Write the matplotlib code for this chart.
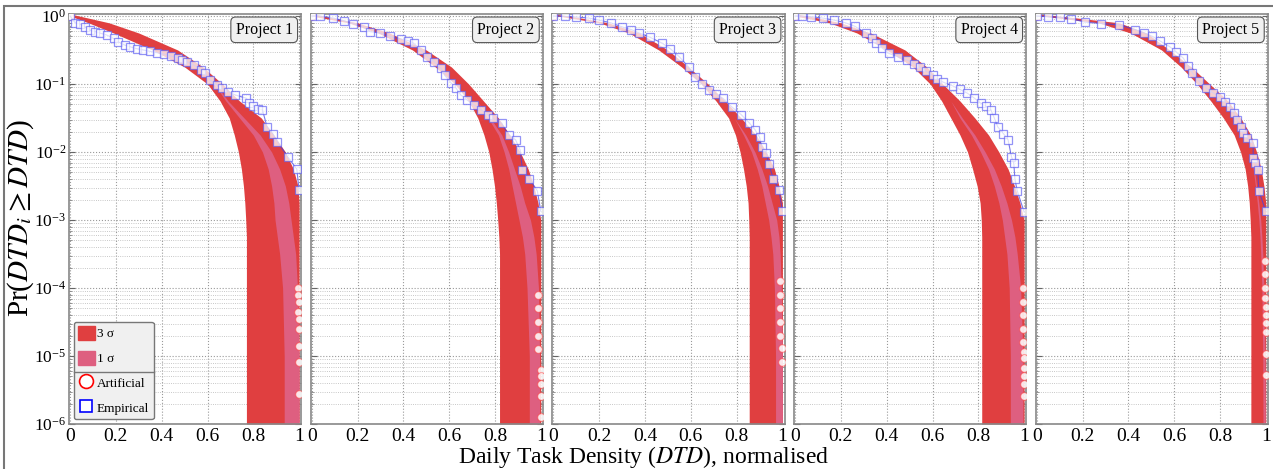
import numpy as np
import matplotlib
matplotlib.use('Agg')
import matplotlib.pyplot as plt
from matplotlib.patches import Patch, Rectangle
from matplotlib.lines import Line2D
from matplotlib.ticker import LogLocator, FixedLocator, FixedFormatter
from matplotlib.transforms import IdentityTransform

plt.rcParams['font.family'] = ['Liberation Serif', 'DejaVu Serif']
plt.rcParams['mathtext.fontset'] = 'stix'
plt.rcParams['axes.unicode_minus'] = False

# ---- data (probabilities are stored as log10 values) ----
projects = ['Project 1', 'Project 2', 'Project 3', 'Project 4', 'Project 5']
x_ticks = [0, 0.2, 0.4, 0.6, 0.8, 1]
x_tick_labels = ['0', '0.2', '0.4', '0.6', '0.8', '1']

# 3 sigma band of the artificial CCDFs: left / right edge at each level
band3_levels = [0.03, 0, -0.1, -0.25, -0.5, -0.75, -1.0, -1.25, -1.5, -1.75,
                -2.0, -2.25, -2.5, -2.75, -3.0, -3.25, -3.5, -4.0, -5.0, -6.0]
band3_left = [
    [0.0, 0.0, 0.08, 0.19, 0.36, 0.5, 0.6, 0.655, 0.695, 0.717, 0.735, 0.748, 0.757, 0.763, 0.767, 0.77, 0.77, 0.77, 0.77, 0.77],
    [0.0, 0.0, 0.16, 0.29, 0.44, 0.54, 0.625, 0.685, 0.725, 0.752, 0.773, 0.787, 0.798, 0.806, 0.812, 0.817, 0.82, 0.82, 0.82, 0.82],
    [0.0, 0.02, 0.2, 0.33, 0.46, 0.56, 0.645, 0.71, 0.765, 0.795, 0.815, 0.83, 0.842, 0.85, 0.853, 0.855, 0.855, 0.855, 0.855, 0.855],
    [0.0, 0.0, 0.15, 0.27, 0.4, 0.515, 0.59, 0.64, 0.68, 0.72, 0.753, 0.775, 0.795, 0.808, 0.813, 0.815, 0.815, 0.815, 0.815, 0.815],
    [0.0, 0.02, 0.27, 0.41, 0.545, 0.63, 0.7, 0.76, 0.815, 0.862, 0.89, 0.91, 0.921, 0.928, 0.932, 0.935, 0.935, 0.935, 0.935, 0.935],
]
band3_right = [
    [0.0, 0.04, 0.17, 0.3, 0.47, 0.58, 0.665, 0.74, 0.835, 0.89, 0.94, 0.975, 0.995, 1.0, 1.0, 1.0, 1.0, 1.0, 1.0, 1.0],
    [0.0, 0.05, 0.2, 0.34, 0.5, 0.61, 0.685, 0.75, 0.815, 0.865, 0.91, 0.945, 0.97, 0.988, 1.0, 1.0, 1.0, 1.0, 1.0, 1.0],
    [0.0, 0.07, 0.24, 0.375, 0.5, 0.59, 0.675, 0.75, 0.82, 0.885, 0.93, 0.965, 0.985, 1.0, 1.0, 1.0, 1.0, 1.0, 1.0, 1.0],
    [0.0, 0.06, 0.2, 0.33, 0.48, 0.575, 0.645, 0.72, 0.785, 0.845, 0.89, 0.93, 0.958, 0.982, 1.0, 1.0, 1.0, 1.0, 1.0, 1.0],
    [0.0, 0.1, 0.36, 0.48, 0.58, 0.675, 0.755, 0.835, 0.89, 0.935, 0.96, 0.98, 0.992, 1.0, 1.0, 1.0, 1.0, 1.0, 1.0, 1.0],
]

# 1 sigma band
band1_levels = [-1.0, -1.25, -1.5, -1.75, -2.0, -2.25, -2.5, -2.75, -3.0, -3.25, -3.5, -4.0, -5.0, -6.0]
band1_left = [
    [0.63, 0.68, 0.74, 0.8, 0.84, 0.865, 0.88, 0.89, 0.895, 0.905, 0.915, 0.928, 0.935, 0.935],
    [0.66, 0.72, 0.77, 0.815, 0.84, 0.86, 0.875, 0.89, 0.905, 0.92, 0.93, 0.94, 0.95, 0.95],
    [0.66, 0.73, 0.79, 0.83, 0.865, 0.89, 0.91, 0.925, 0.94, 0.95, 0.958, 0.965, 0.97, 0.97],
    [0.62, 0.68, 0.72, 0.77, 0.81, 0.845, 0.87, 0.89, 0.905, 0.915, 0.925, 0.935, 0.94, 0.94],
    [0.73, 0.79, 0.85, 0.9, 0.93, 0.945, 0.955, 0.963, 0.97, 0.975, 0.978, 0.983, 0.987, 0.988],
]
band1_right = [
    [0.635, 0.69, 0.76, 0.83, 0.88, 0.915, 0.94, 0.955, 0.965, 0.975, 0.985, 0.993, 1.0, 1.0],
    [0.66, 0.72, 0.78, 0.83, 0.86, 0.885, 0.91, 0.93, 0.955, 0.97, 0.98, 0.99, 0.995, 0.995],
    [0.66, 0.73, 0.79, 0.84, 0.88, 0.91, 0.935, 0.955, 0.975, 0.985, 0.99, 0.995, 1.0, 1.0],
    [0.62, 0.68, 0.73, 0.785, 0.83, 0.87, 0.9, 0.925, 0.945, 0.96, 0.97, 0.985, 0.995, 0.995],
    [0.73, 0.79, 0.85, 0.9, 0.93, 0.95, 0.96, 0.97, 0.978, 0.983, 0.987, 0.992, 0.997, 0.998],
]

# artificial samples visible outside the band
art_x = [
    [0, 0.995, 0.997, 0.998, 0.996, 0.999, 1.0, 1.0, 1.0, 1.0],
    [0, 0.99, 0.99, 0.99, 0.99, 0.99, 1.0, 1.0, 1.0, 1.0, 1.0],
    [0, 0.99, 0.99, 0.99, 0.99, 0.99, 1.0, 1.0],
    [0, 0.995, 0.995, 0.995, 0.995, 0.995, 1.0, 1.0, 1.0, 1.0, 1.0, 1.0],
    [0, 0.995, 0.995, 0.995, 0.995, 1.0, 1.0, 1.0, 1.0, 1.0, 1.0],
]
art_logp = [
    [0, -4.0, -4.1, -4.2, -4.35, -4.45, -4.6, -4.85, -5.09, -5.56],
    [0, -4.1, -4.3, -4.5, -4.7, -4.9, -5.2, -5.29, -5.41, -5.59, -5.9],
    [0, -3.9, -4.1, -4.3, -4.5, -4.7, -4.88, -5.09],
    [0, -4.0, -4.2, -4.4, -4.6, -4.8, -4.94, -5.03, -5.18, -5.29, -5.41, -5.59],
    [0, -3.6, -3.8, -4.0, -4.15, -4.28, -4.40, -4.51, -4.65, -4.97, -5.28],
]

# empirical CCDF
emp_x = [
    [0, 0.022, 0.044, 0.066, 0.088, 0.11, 0.13, 0.16, 0.19, 0.21, 0.24, 0.26, 0.29, 0.32, 0.35, 0.38,
     0.41, 0.44, 0.47, 0.49, 0.51, 0.54, 0.57, 0.59, 0.61, 0.64, 0.665, 0.69, 0.72, 0.77, 0.78, 0.80,
     0.82, 0.84, 0.86, 0.885, 0.905, 0.95, 0.99, 1.0],
    [0, 0.035, 0.094, 0.14, 0.18, 0.226, 0.255, 0.30, 0.34, 0.39, 0.42, 0.445, 0.475, 0.505, 0.535,
     0.565, 0.58, 0.61, 0.63, 0.65, 0.68, 0.71, 0.74, 0.77, 0.79, 0.83, 0.86, 0.89, 0.91, 0.92, 0.95,
     0.985, 1.0],
    [0, 0.05, 0.1, 0.155, 0.2, 0.25, 0.30, 0.34, 0.375, 0.42, 0.475, 0.51, 0.55, 0.59, 0.62, 0.65,
     0.68, 0.71, 0.74, 0.78, 0.82, 0.855, 0.88, 0.90, 0.91, 0.93, 0.94, 0.96, 0.985, 1.0],
    [0, 0.03, 0.07, 0.12, 0.17, 0.22, 0.26, 0.31, 0.335, 0.355, 0.38, 0.41, 0.45, 0.49, 0.52, 0.545,
     0.57, 0.60, 0.62, 0.645, 0.69, 0.72, 0.75, 0.78, 0.81, 0.835, 0.855, 0.87, 0.885, 0.91, 0.93,
     0.945, 0.955, 0.96, 0.97, 1.0],
    [0, 0.05, 0.1, 0.15, 0.21, 0.28, 0.36, 0.43, 0.47, 0.505, 0.54, 0.58, 0.61, 0.64, 0.66, 0.68,
     0.71, 0.74, 0.77, 0.80, 0.82, 0.845, 0.86, 0.875, 0.89, 0.90, 0.92, 0.945, 0.945, 0.955, 0.965,
     0.97, 1.0],
]
emp_logp = [
    [0, -0.10, -0.12, -0.16, -0.21, -0.23, -0.25, -0.28, -0.33, -0.38, -0.43, -0.45, -0.48, -0.50,
     -0.52, -0.54, -0.56, -0.59, -0.61, -0.64, -0.67, -0.72, -0.79, -0.84, -0.94, -1.01, -1.06, -1.11,
     -1.16, -1.21, -1.28, -1.32, -1.36, -1.38, -1.63, -1.73, -1.85, -2.07, -2.25, -2.56],
    [0, 0, -0.03, -0.07, -0.11, -0.16, -0.23, -0.25, -0.30, -0.34, -0.36, -0.40, -0.50, -0.60, -0.67,
     -0.77, -0.87, -0.99, -1.06, -1.16, -1.24, -1.31, -1.38, -1.46, -1.50, -1.58, -1.75, -1.82, -1.97,
     -2.26, -2.39, -2.57, -2.87],
    [0, -0.005, -0.015, -0.03, -0.06, -0.10, -0.16, -0.20, -0.25, -0.31, -0.40, -0.48, -0.60, -0.75,
     -0.90, -1.00, -1.09, -1.15, -1.21, -1.34, -1.45, -1.57, -1.67, -1.78, -1.93, -2.02, -2.17, -2.39,
     -2.56, -2.87],
    [0, -0.003, -0.01, -0.03, -0.06, -0.10, -0.15, -0.25, -0.32, -0.40, -0.47, -0.55, -0.60, -0.65,
     -0.70, -0.75, -0.81, -0.87, -0.92, -0.97, -1.03, -1.08, -1.13, -1.20, -1.28, -1.33, -1.38, -1.50,
     -1.63, -1.73, -1.82, -2.07, -2.16, -2.40, -2.57, -2.88],
    [0, -0.01, -0.02, -0.04, -0.09, -0.11, -0.13, -0.20, -0.25, -0.30, -0.37, -0.45, -0.53, -0.62,
     -0.73, -0.84, -0.96, -1.06, -1.13, -1.19, -1.26, -1.34, -1.43, -1.53, -1.63, -1.72, -1.80, -1.87,
     -2.09, -2.16, -2.26, -2.57, -2.87],
]

col_3s = '#e03f40'
col_1s = '#de5f80'

fig, axes = plt.subplots(1, 5, figsize=(12.73, 4.69), dpi=100, sharey=True)
fig.subplots_adjust(left=0.0542, right=0.9961, top=0.9701, bottom=0.0959, wspace=0.04)

for i, ax in enumerate(axes):
    ax.fill_betweenx(10.0 ** np.array(band3_levels), band3_left[i], band3_right[i],
                     color=col_3s, lw=0, zorder=2)
    ax.fill_betweenx(10.0 ** np.array(band1_levels), band1_left[i], band1_right[i],
                     color=col_1s, lw=0, zorder=2.1)
    ax.plot(art_x[i], 10.0 ** np.array(art_logp[i]), 'o', ls='none', ms=5.5,
            mfc=(1, 1, 1, 0.85), mec=(1, 0.25, 0.25, 0.55), mew=0.8, zorder=3)
    ax.plot(emp_x[i], 10.0 ** np.array(emp_logp[i]), '-', color=(0.25, 0.25, 0.9, 0.7), lw=0.8,
            marker='s', ms=6, mfc=(1, 1, 1, 0.75), mec=(0.35, 0.35, 0.95, 0.65), mew=0.9, zorder=4)

    ax.set_yscale('log')
    ax.set_ylim(1e-6, 1.07)
    ax.set_xlim(-0.005, 1.01)
    ax.xaxis.set_major_locator(FixedLocator(x_ticks))
    ax.xaxis.set_major_formatter(FixedFormatter(x_tick_labels))
    ax.yaxis.set_major_locator(LogLocator(base=10, numticks=20))
    ax.yaxis.set_minor_locator(LogLocator(base=10, subs=np.arange(2, 10), numticks=20))

    ax.grid(True, which='major', ls=':', color='#9a9a9a', lw=0.8)
    ax.grid(True, which='minor', axis='y', ls=':', color='#b5b5b5', lw=0.6)
    ax.set_axisbelow(True)

    ax.tick_params(axis='y', which='major', direction='in', left=True, right=True,
                   length=4, color='#666', labelsize=12.5, pad=2)
    ax.tick_params(axis='y', which='minor', direction='in', left=True, right=True,
                   length=2, color='#888')
    ax.tick_params(axis='x', which='both', length=0, labelsize=14, pad=3)
    for s in ax.spines.values():
        s.set_color('#888888')
        s.set_linewidth(1.2)

    ax.text(0.963, 0.981, projects[i], transform=ax.transAxes, ha='right', va='top',
            fontsize=11.5, zorder=6,
            bbox=dict(boxstyle='round,pad=0.3', fc='#f0f0f0', ec='#555555', lw=0.8))

fig.text(21 / 1273, 0.535, r'Pr($\mathit{DTD}_i \geq \mathit{DTD}$)', rotation=90,
         ha='center', va='center', fontsize=21)
fig.text(644 / 1273, 1 - 457 / 469, r'Daily Task Density ($\mathit{DTD}$), normalised',
         ha='center', va='center', fontsize=17)

handles = [
    Patch(facecolor=col_3s, edgecolor=col_3s),
    Patch(facecolor=col_1s, edgecolor=col_1s),
    Line2D([], [], ls='none', marker='o', ms=10, mfc='white', mec='red', mew=1.2),
    Line2D([], [], ls='none', marker='s', ms=9, mfc='white', mec='blue', mew=1.2),
]
leg = axes[0].legend(handles, ['3 σ', '1 σ', 'Artificial', 'Empirical'], loc='lower left',
                     bbox_to_anchor=(0.0, 0.0), borderaxespad=0.35, fontsize=9.5,
                     handlelength=1.25, handleheight=1.2, handletextpad=0.15,
                     labelspacing=0.8, borderpad=0.35, fancybox=True, framealpha=1)
leg.get_frame().set_facecolor('#f0f0f0')
leg.get_frame().set_edgecolor('#777777')
leg.get_frame().set_linewidth(1.0)
leg.set_zorder(7)

# outer frame of the figure
fig.add_artist(Rectangle((4 / 1273, -0.1), 1.2, 1.1 - 6 / 469, transform=fig.transFigure,
                         fill=False, ec='#777777', lw=1.5))

# separator line between the band entries and the marker entries of the legend
fig.canvas.draw()
texts = leg.get_texts()
bb1 = texts[1].get_window_extent()
bb2 = texts[2].get_window_extent()
fb = leg.get_frame().get_window_extent()
ysep = (bb1.y0 + bb2.y1) / 2
fig.add_artist(Line2D([fb.x0, fb.x1], [ysep, ysep], transform=IdentityTransform(),
                      color='#777777', lw=1.0, zorder=8))

fig.savefig('out.png', dpi=100)
